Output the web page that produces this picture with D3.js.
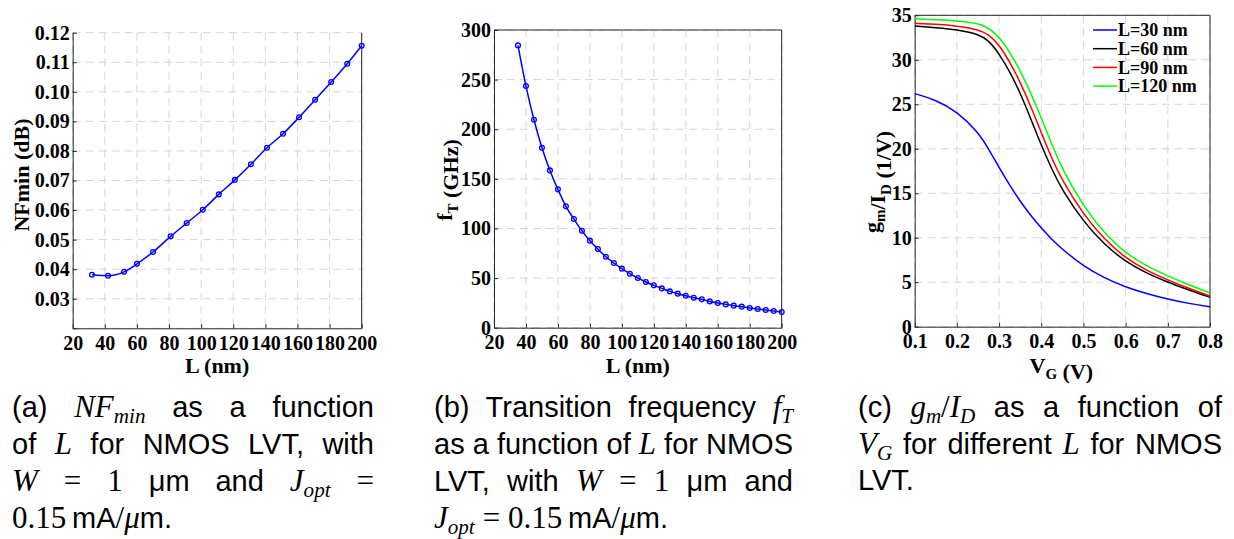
<!DOCTYPE html>
<html>
<head>
<meta charset="utf-8">
<script src="https://cdn.jsdelivr.net/npm/d3@7"></script>
<style>
  body { margin: 0; background: #fff; }
  #fig { position: relative; width: 1234px; height: 539px; overflow: hidden; }
  svg { position: absolute; left: 0; top: 0; }
  .cap { position: absolute; font-family: 'Liberation Sans', Arial, sans-serif; font-size: 29px; color: #000; }
  .cap div { height: 37px; line-height: 37px; white-space: nowrap; }
  .cap .j { text-align: justify; text-align-last: justify; }
  .m { font-family: 'Liberation Serif', 'Times New Roman', serif; font-style: italic; font-size: 31px; }
  .r { font-family: 'Liberation Serif', 'Times New Roman', serif; font-size: 31px; }
  .m sub { font-size: 0.68em; vertical-align: -0.28em; line-height: 0; }
</style>
</head>
<body>
<div id="fig"></div>
<script>
// (a) NFmin vs L
const nfL = [32, 42, 52, 60, 70, 81, 91, 101, 111, 121, 131, 141, 151, 161, 171, 181, 191, 200];
const nfValues = [0.0381, 0.0378, 0.0391, 0.0418, 0.0458, 0.0511, 0.0556, 0.0601, 0.0653, 0.0702,
    0.0755, 0.0811, 0.0858, 0.0914, 0.0973, 0.1033, 0.1095, 0.1156];

// (b) fT vs L
const ftL = [35, 40, 45, 50, 55, 60, 65, 70, 75, 80, 85, 90, 95, 100, 105, 110, 115, 120, 125, 130,
    135, 140, 145, 150, 155, 160, 165, 170, 175, 180, 185, 190, 195, 200];
const ftValues = [284.5, 243.5, 209.6, 181.4, 158.5, 139.4, 122.3, 109.5, 97.7, 87.7, 79.3, 71.5, 65.2,
    59.5, 54.4, 50.1, 46.0, 42.7, 39.6, 36.6, 34.3, 32.2, 30.2, 28.6, 26.5, 24.9, 23.5, 22.2, 21.2,
    19.8, 18.8, 17.8, 16.8, 15.8];

// (c) gm/ID vs VG
const vg = [0.1, 0.15, 0.2, 0.25, 0.275, 0.3, 0.325, 0.35, 0.375, 0.4, 0.425, 0.45, 0.5, 0.55, 0.6, 0.65, 0.7, 0.75, 0.8];
const gmId30 = [26.2, 25.5, 24.2, 21.9, 20.0, 17.9, 15.9, 14.1, 12.5, 11.1, 9.8, 8.7, 6.8, 5.45, 4.45, 3.7, 3.08, 2.6, 2.25];
const gmId60 = [33.8, 33.6, 33.4, 32.9, 32.2, 30.7, 28.7, 26.3, 23.4, 20.4, 17.7, 15.3, 11.8, 9.2, 7.3, 6.0, 5.0, 4.1, 3.3];
const gmId90 = [34.1, 34.0, 33.8, 33.4, 32.9, 31.7, 29.8, 27.5, 24.8, 21.8, 18.9, 16.4, 12.6, 9.8, 7.7, 6.3, 5.25, 4.3, 3.45];
const gmId120 = [34.6, 34.5, 34.4, 34.1, 33.6, 32.6, 30.9, 28.8, 26.3, 23.5, 20.5, 17.7, 13.5, 10.5, 8.25, 6.8, 5.7, 4.7, 3.8];
const legendLabels = ['L=30 nm', 'L=60 nm', 'L=90 nm', 'L=120 nm'];
const legendColors = ['#0000ff', '#000000', '#ff0000', '#00ff00'];

const lTicks = [20, 40, 60, 80, 100, 120, 140, 160, 180, 200];
const nfTicks = [0.02, 0.03, 0.04, 0.05, 0.06, 0.07, 0.08, 0.09, 0.10, 0.11, 0.12];
const ftTicks = [0, 50, 100, 150, 200, 250, 300];
const vgTicks = [0.1, 0.2, 0.3, 0.4, 0.5, 0.6, 0.7, 0.8];
const gmTicks = [0, 5, 10, 15, 20, 25, 30, 35];

const FONT = "'Liberation Serif', 'Times New Roman', serif";
const AXIS_COLOR = '#262626';

const svg = d3.select('#fig').append('svg')
    .attr('width', 1234)
    .attr('height', 539);

function drawPanel(cfg) {
    const x = d3.scaleLinear().domain(cfg.xDomain).range([cfg.left, cfg.right]);
    const y = d3.scaleLinear().domain(cfg.yDomain).range([cfg.bottom, cfg.top]);
    const g = svg.append('g');

    // dashed grid
    g.append('g')
        .selectAll('line')
        .data(cfg.xTicks)
        .join('line')
        .attr('x1', (d) => x(d)).attr('x2', (d) => x(d))
        .attr('y1', cfg.top).attr('y2', cfg.bottom)
        .attr('stroke', '#d6d6d6').attr('stroke-dasharray', '8,5');
    g.append('g')
        .selectAll('line')
        .data(cfg.yTicks)
        .join('line')
        .attr('x1', cfg.left).attr('x2', cfg.right)
        .attr('y1', (d) => y(d)).attr('y2', (d) => y(d))
        .attr('stroke', '#d6d6d6').attr('stroke-dasharray', '8,5');

    // axes
    const xAxis = g.append('g')
        .attr('transform', 'translate(0,' + cfg.bottom + ')')
        .call(d3.axisBottom(x).tickValues(cfg.xTicks).tickFormat(cfg.xFormat)
            .tickSizeInner(-4).tickSizeOuter(0).tickPadding(7.5));
    const yAxis = g.append('g')
        .attr('transform', 'translate(' + cfg.left + ',0)')
        .call(d3.axisLeft(y).tickValues(cfg.yTicks).tickFormat(cfg.yFormat)
            .tickSizeInner(-4).tickSizeOuter(0).tickPadding(3));
    [xAxis, yAxis].forEach((a) => {
        a.select('.domain').attr('stroke', AXIS_COLOR);
        a.selectAll('.tick line').attr('stroke', AXIS_COLOR);
        a.selectAll('text')
            .attr('font-family', FONT)
            .attr('font-weight', 'bold')
            .attr('font-size', 20)
            .attr('fill', '#000');
    });

    // right (and top) border
    g.append('line')
        .attr('x1', cfg.right).attr('x2', cfg.right)
        .attr('y1', cfg.top).attr('y2', cfg.bottom)
        .attr('stroke', AXIS_COLOR);
    if (cfg.topBorder) {
        g.append('line')
            .attr('x1', cfg.left).attr('x2', cfg.right)
            .attr('y1', cfg.top).attr('y2', cfg.top)
            .attr('stroke', AXIS_COLOR);
    }

    // axis titles
    const xt = g.append('text')
        .attr('x', (cfg.left + cfg.right) / 2 + (cfg.xLabelShift || 0))
        .attr('y', 372.5)
        .attr('text-anchor', 'middle')
        .attr('font-family', FONT).attr('font-weight', 'bold').attr('font-size', 22);
    cfg.xLabel.forEach((p) => addPart(xt, p));

    const yt = g.append('text')
        .attr('transform', 'translate(' + cfg.yLabelX + ',' + cfg.yLabelY + ') rotate(-90)')
        .attr('text-anchor', 'middle')
        .attr('font-family', FONT).attr('font-weight', 'bold').attr('font-size', 22);
    cfg.yLabel.forEach((p) => addPart(yt, p));

    return { x: x, y: y, g: g };
}

// text parts: [string, 'sub'] shifts down, then back
function addPart(t, p) {
    if (p[1] === 'sub') {
        t.append('tspan').attr('font-size', 15).attr('dy', 6).text(p[0]);
        t.append('tspan').attr('dy', -6).text('');
    } else {
        t.append('tspan').text(p[0]);
    }
}

function drawMarkedLine(panel, xs, ys) {
    const pts = xs.map((d, i) => [d, ys[i]]);
    panel.g.append('path')
        .datum(pts)
        .attr('fill', 'none')
        .attr('stroke', '#0000ff')
        .attr('stroke-width', 1.5)
        .attr('d', d3.line()
            .curve(d3.curveMonotoneX)
            .x((d) => panel.x(d[0]))
            .y((d) => panel.y(d[1])));
    panel.g.append('g')
        .selectAll('circle')
        .data(pts)
        .join('circle')
        .attr('cx', (d) => panel.x(d[0]))
        .attr('cy', (d) => panel.y(d[1]))
        .attr('r', 2.4)
        .attr('fill', 'none')
        .attr('stroke', '#0000ff')
        .attr('stroke-width', 1.3);
}

// panel (a)
const panelA = drawPanel({
    left: 72.7, right: 361.7, top: 32.7, bottom: 328.3,
    xDomain: [20, 200], yDomain: [0.02, 0.12],
    xTicks: lTicks, yTicks: nfTicks,
    xFormat: d3.format('d'), yFormat: (d) => (d < 0.025 ? '' : d3.format('.2f')(d)),
    xLabel: [['L (nm)']], yLabel: [['NFmin (dB)']],
    yLabelX: 28.5, yLabelY: 175, topBorder: false
});
drawMarkedLine(panelA, nfL, nfValues);

// panel (b)
const panelB = drawPanel({
    left: 494, right: 781.7, top: 30, bottom: 327.7,
    xDomain: [20, 200], yDomain: [0, 300],
    xTicks: lTicks, yTicks: ftTicks,
    xFormat: d3.format('d'), yFormat: d3.format('d'),
    xLabel: [['L (nm)']], yLabel: [['f'], ['T', 'sub'], [' (GHz)']],
    yLabelX: 452, yLabelY: 180, topBorder: true
});
drawMarkedLine(panelB, ftL, ftValues);

// panel (c)
const panelC = drawPanel({
    left: 914.7, right: 1210, top: 15.3, bottom: 326.7,
    xDomain: [0.1, 0.8], yDomain: [0, 35],
    xTicks: vgTicks, yTicks: gmTicks,
    xFormat: d3.format('.1f'), yFormat: d3.format('d'),
    xLabel: [['V'], ['G', 'sub'], [' (V)']], yLabel: [['g'], ['m', 'sub'], ['/I'], ['D', 'sub'], [' (1/V)']],
    yLabelX: 879, yLabelY: 182, topBorder: true, xLabelShift: -1
});
[gmId30, gmId60, gmId90, gmId120].forEach((series, i) => {
    panelC.g.append('path')
        .datum(vg.map((d, j) => [d, series[j]]))
        .attr('fill', 'none')
        .attr('stroke', legendColors[i])
        .attr('stroke-width', 1.5)
        .attr('d', d3.line()
            .curve(d3.curveBasis)
            .x((d) => panelC.x(d[0]))
            .y((d) => panelC.y(d[1])));
});

// legend
const legend = panelC.g.append('g').attr('transform', 'translate(1093,30)');
legendLabels.forEach((label, i) => {
    const row = legend.append('g').attr('transform', 'translate(0,' + (i * 18.7) + ')');
    row.append('line')
        .attr('x1', 0).attr('x2', 24)
        .attr('stroke', legendColors[i]).attr('stroke-width', 1.5);
    row.append('text')
        .attr('x', 25).attr('dy', '0.35em')
        .attr('font-family', FONT).attr('font-weight', 'bold').attr('font-size', 18)
        .text(label);
});

// captions
const captions = [
    { left: 12, width: 362, lines: [
        ['j', '(a) <span class="m">NF<sub>min</sub></span> as a function'],
        ['j', 'of <span class="m">L</span> for NMOS LVT, with'],
        ['j', '<span class="m">W</span> <span class="r">=</span> <span class="r">1</span> μm and <span class="m">J<sub>opt</sub></span> <span class="r">=</span>'],
        ['', '<span class="r">0.15</span>&thinsp;mA<span class="r">/</span><span class="m">μ</span>m.']
    ] },
    { left: 434, width: 359, lines: [
        ['j', '(b) Transition frequency <span class="m">f<sub>T</sub></span>'],
        ['j', 'as a function of <span class="m">L</span> for NMOS'],
        ['j', 'LVT, with <span class="m">W</span> <span class="r">=</span> <span class="r">1</span> μm and'],
        ['', '<span class="m">J<sub>opt</sub></span> <span class="r">= 0.15</span>&thinsp;mA<span class="r">/</span><span class="m">μ</span>m.']
    ] },
    { left: 858, width: 364, lines: [
        ['j', '(c) <span class="m">g<sub>m</sub></span><span class="r">/</span><span class="m">I<sub>D</sub></span> as a function of'],
        ['j', '<span class="m">V<sub>G</sub></span> for different <span class="m">L</span> for NMOS'],
        ['', 'LVT.']
    ] }
];
captions.forEach((c) => {
    const box = d3.select('#fig').append('div')
        .attr('class', 'cap')
        .style('left', c.left + 'px')
        .style('top', '388px')
        .style('width', c.width + 'px');
    box.selectAll('div')
        .data(c.lines)
        .join('div')
        .attr('class', (d) => d[0])
        .html((d) => d[1]);
});
</script>
</body>
</html>
